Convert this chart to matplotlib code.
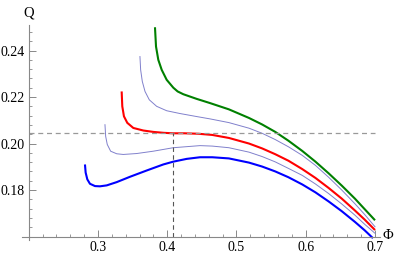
import matplotlib
matplotlib.use("Agg")
import matplotlib.pyplot as plt
from matplotlib.ticker import MultipleLocator, FixedLocator

# Data
phi_blue = [0.2812, 0.2822, 0.2846, 0.2884, 0.2957, 0.3029, 0.3126, 0.3270, 0.3462, 0.3703,
            0.3943, 0.4087, 0.4281, 0.4473, 0.465, 0.489, 0.518, 0.537, 0.556, 0.575, 0.595,
            0.614, 0.633, 0.652, 0.671, 0.685, 0.697]
q_blue = [0.1910, 0.1875, 0.1846, 0.1827, 0.1817, 0.1816, 0.1820, 0.1834, 0.1857, 0.1884,
          0.1910, 0.1922, 0.1934, 0.1941, 0.1941, 0.1936, 0.1918, 0.1901, 0.1880, 0.1855, 0.1824,
          0.1790, 0.1751, 0.1709, 0.1663, 0.1627, 0.1593]

phi_thin1 = [0.3101, 0.3111, 0.3134, 0.3183, 0.3270, 0.3365, 0.3559, 0.3798, 0.4087, 0.4473,
             0.465, 0.489, 0.518, 0.537, 0.556, 0.575, 0.595, 0.614, 0.633, 0.652, 0.671, 0.685,
             0.700]
q_thin1 = [0.2081, 0.2031, 0.1996, 0.1967, 0.1956, 0.1953, 0.1957, 0.1967, 0.1982, 0.1991,
           0.1989, 0.1982, 0.1963, 0.1944, 0.1921, 0.1893, 0.1863, 0.1826, 0.1785, 0.1740, 0.1692,
           0.1653, 0.1614]

phi_red = [0.3342, 0.3351, 0.3375, 0.3423, 0.3510, 0.3654, 0.3798, 0.395, 0.408, 0.425, 0.445,
           0.465, 0.489, 0.518, 0.537, 0.556, 0.575, 0.595, 0.614, 0.633, 0.652, 0.671, 0.685,
           0.700]
q_red = [0.2224, 0.2160, 0.2117, 0.2089, 0.2067, 0.2056, 0.2050, 0.2046, 0.2044, 0.2044, 0.2042,
         0.2037, 0.2024, 0.2000, 0.1979, 0.1954, 0.1926, 0.1890, 0.1852, 0.1809, 0.1763, 0.1712,
         0.1673, 0.1628]

phi_thin2 = [0.3606, 0.3616, 0.3640, 0.3679, 0.3741, 0.3847, 0.3992, 0.4184, 0.4425, 0.4617,
             0.489, 0.518, 0.537, 0.556, 0.575, 0.595, 0.614, 0.633, 0.652, 0.671, 0.685, 0.700]
q_thin2 = [0.2374, 0.2317, 0.2267, 0.2224, 0.2188, 0.2160, 0.2141, 0.2129, 0.2116, 0.2106,
           0.2090, 0.2066, 0.2044, 0.2017, 0.1986, 0.1949, 0.1906, 0.1855, 0.1800, 0.1741, 0.1695,
           0.1642]

phi_green = [0.3823, 0.3838, 0.3871, 0.3920, 0.3992, 0.4088, 0.415, 0.4232, 0.4425, 0.4617,
             0.489, 0.518, 0.537, 0.556, 0.575, 0.595, 0.614, 0.633, 0.652, 0.671, 0.685, 0.700]
q_green = [0.2500, 0.2417, 0.2360, 0.2317, 0.2274, 0.2240, 0.2224, 0.2212, 0.2192, 0.2174,
           0.2147, 0.2110, 0.2082, 0.2050, 0.2012, 0.1968, 0.1922, 0.1872, 0.1819, 0.1763, 0.1718,
           0.1670]

q_crit = 0.2044
phi_crit = 0.408

x_ticks = [0.3, 0.4, 0.5, 0.6, 0.7]
x_tick_labels = ["0.3", "0.4", "0.5", "0.6", "0.7"]
y_ticks = [0.18, 0.20, 0.22, 0.24]
y_tick_labels = ["0.18", "0.20", "0.22", "0.24"]

fig = plt.figure(figsize=(4.0, 2.57), dpi=100)
ax = fig.add_axes([0.055, 0.066, 0.895, 0.837])

thin_col = "#8080cc"
ax.plot(phi_blue, q_blue, color="#0000ff", lw=1.5, solid_capstyle="butt", solid_joinstyle="round")
ax.plot(phi_thin1, q_thin1, color=thin_col, lw=0.7, solid_joinstyle="round")
ax.plot(phi_red, q_red, color="#ff0000", lw=1.5, solid_capstyle="butt", solid_joinstyle="round")
ax.plot(phi_thin2, q_thin2, color=thin_col, lw=0.7, solid_joinstyle="round")
ax.plot(phi_green, q_green, color="#008000", lw=1.5, solid_capstyle="butt", solid_joinstyle="round")

ax.plot([0.2, 0.7], [q_crit, q_crit], color="#999999", lw=0.9, dashes=(4, 3))
ax.plot([phi_crit, phi_crit], [0.16, q_crit], color="#555555", lw=0.8, dashes=(4, 3))

ax.set_xlim(0.1903, 0.7072)
ax.set_ylim(0.1585, 0.2510)

for s in ["top", "right"]:
    ax.spines[s].set_visible(False)
ax.spines["left"].set_position(("data", 0.2))
ax.spines["bottom"].set_position(("data", 0.16))
for s in ["left", "bottom"]:
    ax.spines[s].set_color("#888888")
    ax.spines[s].set_linewidth(0.8)

ax.xaxis.set_major_locator(FixedLocator(x_ticks))
ax.set_xticklabels(x_tick_labels)
ax.yaxis.set_major_locator(FixedLocator(y_ticks))
ax.set_yticklabels(y_tick_labels)
ax.xaxis.set_minor_locator(MultipleLocator(0.02))
ax.yaxis.set_minor_locator(MultipleLocator(0.004))
ax.tick_params(axis="both", which="major", direction="in", length=5, width=0.7, color="#888888",
               labelsize=10, pad=3)
ax.tick_params(axis="both", which="minor", direction="in", length=2.5, width=0.6, color="#888888")
for lab in ax.get_xticklabels() + ax.get_yticklabels():
    lab.set_family("Liberation Serif")

ax.text(0.2, 0.2563, "Q", ha="center", va="center", fontsize=10.5, family="Liberation Serif")
ax.text(0.7185, 0.1605, "Φ", ha="center", va="center", fontsize=10.5, family="Liberation Serif")

fig.savefig("out.png", dpi=100)
